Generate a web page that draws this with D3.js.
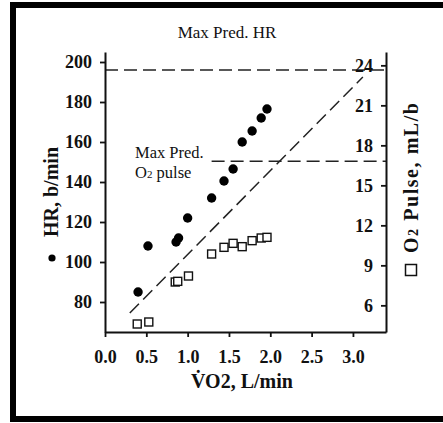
<!DOCTYPE html>
<html>
<head>
<meta charset="utf-8">
<script src="https://cdn.jsdelivr.net/npm/d3@7"></script>
<style>
  html, body { margin: 0; padding: 0; background: #fff; overflow: hidden; }
  svg { display: block; }
  svg text { font-family: "Liberation Serif", "Times New Roman", serif; fill: #111; }
</style>
</head>
<body>
<svg id="chart" width="443" height="423"></svg>
<script>
// values
let vo2 = [0.40, 0.52, 0.86, 0.89, 1.00, 1.29, 1.44, 1.55, 1.66, 1.78, 1.89, 1.96];
let heartRate = [85, 108, 110, 112, 122, 132, 140.5, 146.5, 160, 165.5, 172, 176.5];
let o2Vo2 = [0.39, 0.53, 0.85, 0.88, 1.01, 1.29, 1.44, 1.55, 1.66, 1.78, 1.89, 1.96];
let o2Pulse = [4.6, 4.75, 7.75, 7.8, 8.2, 9.85, 10.35, 10.65, 10.4, 10.85, 11.05, 11.1];

let xTicks = [0, 0.5, 1.0, 1.5, 2.0, 2.5, 3.0];
let hrTicks = [80, 100, 120, 140, 160, 180, 200];
let pulseTicks = [6, 9, 12, 15, 18, 21, 24];

let maxPredHR = 196;
let maxPredPulse = 16.8;
let predLine = [[0.30, 74.5], [3.12, 192.5]]; // vo2, HR

function getConfig() {
    let margin = { top: 52, left: 105, right: 386, bottom: 332 };
    let svg = d3.select("#chart");
    return { margin, svg };
}

function getScales(config) {
    let { margin } = config;
    let xScale = d3.scaleLinear().domain([0, 3.4]).range([margin.left, margin.right]);
    let hrScale = d3.scaleLinear().domain([65, 205]).range([margin.bottom, margin.top]);
    let pulseScale = d3.scaleLinear().domain([4, 25]).range([margin.bottom, margin.top]);
    return { xScale, hrScale, pulseScale };
}

function drawFrame(config) {
    // open frame: top, left and bottom edges only
    config.svg.append("path")
        .attr("d", "M450,5 H13 V419 H450")
        .attr("fill", "none")
        .attr("stroke", "#000")
        .attr("stroke-width", 6);
}

function drawAxes(scales, config) {
    let { xScale, hrScale, pulseScale } = scales;
    let { svg, margin } = config;

    let gLeft = svg.append("g")
        .attr("transform", `translate(${margin.left},0)`)
        .call(d3.axisLeft(hrScale).tickValues(hrTicks).tickSize(5).tickSizeOuter(0).tickPadding(8));

    let gRight = svg.append("g")
        .attr("transform", `translate(${margin.right},0)`)
        .call(d3.axisLeft(pulseScale).tickValues(pulseTicks).tickSize(5).tickSizeOuter(0).tickPadding(8));

    let gX = svg.append("g")
        .attr("transform", `translate(0,${margin.bottom})`)
        .call(d3.axisBottom(xScale).tickValues(xTicks).tickSize(5).tickSizeOuter(0).tickPadding(13)
            .tickFormat(d3.format(".1f")));

    [gLeft, gRight, gX].forEach(g => {
        g.select(".domain").attr("stroke", "#111").attr("stroke-width", 2);
        g.selectAll(".tick line").attr("stroke", "#111").attr("stroke-width", 1.8);
        g.selectAll(".tick text")
            .attr("font-size", 18)
            .attr("font-weight", "bold")
            .attr("font-family", "'Liberation Serif', serif");
    });
}

function drawRefLines(scales) {
    let { xScale, hrScale, pulseScale } = scales;
    let svg = d3.select("#chart");
    let dash = "13,6";

    svg.append("line")
        .attr("x1", xScale(0)).attr("x2", xScale(3.4))
        .attr("y1", hrScale(maxPredHR)).attr("y2", hrScale(maxPredHR))
        .attr("stroke", "#222").attr("stroke-width", 1.5).attr("stroke-dasharray", dash);

    svg.append("line")
        .attr("x1", xScale(1.29)).attr("x2", xScale(3.4))
        .attr("y1", pulseScale(maxPredPulse)).attr("y2", pulseScale(maxPredPulse))
        .attr("stroke", "#222").attr("stroke-width", 1.5).attr("stroke-dasharray", dash);

    svg.append("path")
        .datum(predLine)
        .attr("d", d3.line().x(d => xScale(d[0])).y(d => hrScale(d[1])))
        .attr("fill", "none")
        .attr("stroke", "#222").attr("stroke-width", 1.5).attr("stroke-dasharray", dash);
}

function drawPoints(scales) {
    let { xScale, hrScale, pulseScale } = scales;
    let svg = d3.select("#chart");
    let s = 8;

    svg.selectAll(".hr").data(vo2)
        .enter()
        .append("circle")
        .attr("class", "hr")
        .attr("cx", d => xScale(d))
        .attr("cy", (d, i) => hrScale(heartRate[i]))
        .attr("r", 4.7)
        .attr("fill", "#000");

    svg.selectAll(".pulse").data(o2Vo2)
        .enter()
        .append("rect")
        .attr("class", "pulse")
        .attr("x", d => xScale(d) - s / 2)
        .attr("y", (d, i) => pulseScale(o2Pulse[i]) - s / 2)
        .attr("width", s).attr("height", s)
        .attr("fill", "#fff")
        .attr("stroke", "#111").attr("stroke-width", 1.4);
}

function drawLabels() {
    let svg = d3.select("#chart");

    svg.append("text")
        .attr("x", 227).attr("y", 38)
        .attr("text-anchor", "middle")
        .attr("font-size", 17)
        .text("Max Pred. HR");

    svg.append("text")
        .attr("x", 135).attr("y", 158)
        .attr("font-size", 16.5)
        .text("Max Pred.");

    let o2 = svg.append("text")
        .attr("x", 135).attr("y", 178)
        .attr("font-size", 16.5);
    o2.append("tspan").text("O");
    o2.append("tspan").attr("font-size", 11).text("2");
    o2.append("tspan").text(" pulse");

    // x label with dotted V
    let xl = svg.append("text")
        .attr("x", 242).attr("y", 388)
        .attr("text-anchor", "middle")
        .attr("font-size", 20)
        .attr("font-weight", "bold");
    xl.append("tspan").text("V\u0307O2, L/min");

    // left y label + legend dot
    svg.append("text")
        .attr("transform", "translate(58,192) rotate(-90)")
        .attr("text-anchor", "middle")
        .attr("font-size", 20)
        .attr("font-weight", "bold")
        .text("HR, b/min");
    svg.append("circle")
        .attr("cx", 52).attr("cy", 258).attr("r", 3.6)
        .attr("fill", "#000");

    // right y label + legend square
    let rl = svg.append("text")
        .attr("transform", "translate(418,178) rotate(-90)")
        .attr("text-anchor", "middle")
        .attr("font-size", 20)
        .attr("font-weight", "bold")
        .attr("textLength", 150);
    rl.append("tspan").text("O");
    rl.append("tspan").attr("font-size", 14).text("2");
    rl.append("tspan").text(" Pulse, mL/b");
    svg.append("rect")
        .attr("x", 405.5).attr("y", 264.5).attr("width", 11).attr("height", 11)
        .attr("fill", "#fff").attr("stroke", "#111").attr("stroke-width", 1.5);
}

let config = getConfig();
let scales = getScales(config);
drawFrame(config);
drawRefLines(scales);
drawAxes(scales, config);
drawPoints(scales);
drawLabels();
</script>
</body>
</html>
